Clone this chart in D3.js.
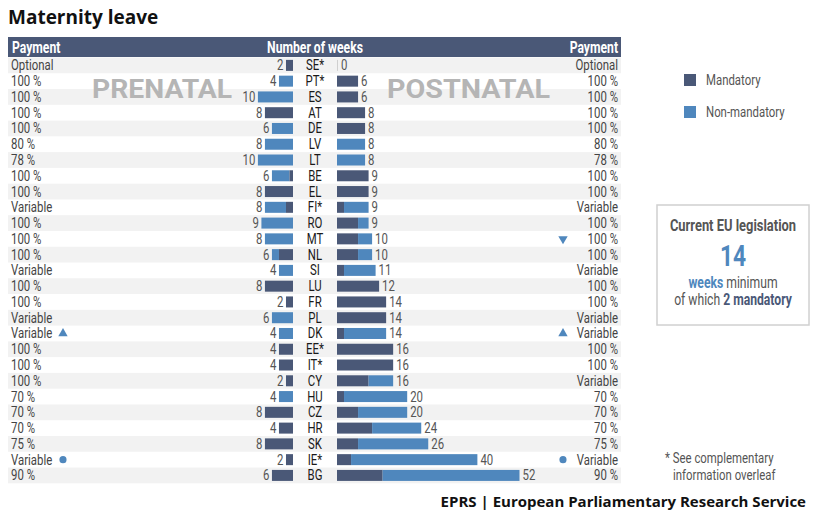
<!DOCTYPE html>
<html>
<head>
<meta charset="utf-8">
<script src="https://cdn.jsdelivr.net/npm/d3@7"></script>
<style>
  body { margin: 0; background: #fff; }
  svg text { font-family: "Roboto", "Noto Sans", sans-serif; }
</style>
</head>
<body>
<svg id="chart"></svg>
<script>
var countries = ["SE*","PT*","ES","AT","DE","LV","LT","BE","EL","FI*","RO","MT","NL","SI","LU","FR","PL","DK","EE*","IT*","CY","HU","CZ","HR","SK","IE*","BG"];
var prenatalTotal     = [2,4,10,8,6,8,10,6,8,8,9,8,6,4,8,2,6,4,4,4,2,4,8,4,8,2,6];
var prenatalMandatory = [2,0,0,8,0,0,0,1,8,2,0,0,4,0,8,2,0,0,4,4,2,0,8,4,8,2,6];
var postnatalTotal     = [0,6,6,8,8,8,8,9,9,9,9,10,10,11,12,14,14,14,16,16,16,20,20,24,26,40,52];
var postnatalMandatory = [0,6,6,8,8,0,0,9,9,2,6,6,6,2,12,14,14,2,16,16,9,2,6,10,6,4,13];
var paymentPrenatal = ["Optional","100 %","100 %","100 %","100 %","80 %","78 %","100 %","100 %","Variable","100 %","100 %","100 %","Variable","100 %","100 %","Variable","Variable","100 %","100 %","100 %","70 %","70 %","70 %","75 %","Variable","90 %"];
var paymentPostnatal = ["Optional","100 %","100 %","100 %","100 %","80 %","78 %","100 %","100 %","Variable","100 %","100 %","100 %","Variable","100 %","100 %","Variable","Variable","100 %","100 %","Variable","70 %","70 %","70 %","75 %","Variable","90 %"];
var markersLeft  = [{country:"DK", shape:"up"}, {country:"IE*", shape:"circle"}];
var markersRight = [{country:"MT", shape:"down"}, {country:"DK", shape:"up"}, {country:"IE*", shape:"circle"}];
var legendLabels = ["Mandatory","Non-mandatory"];

var dark = "#4a5877";
var light = "#4f87bd";

var width = 819, height = 522;
var svg = d3.select("#chart").attr("width", width).attr("height", height);

var table = { left: 8, right: 621, top: 57.5, bottom: 483.3 };
var preEdge = 293, postEdge = 337, labelX = 315;

// condensed look: the original uses a narrow face we do not have
var squeeze = 0.76;
var place = function(sel, xf, yf) {
  sel.attr("transform", function(d, i) {
    var x = typeof xf === "function" ? xf(d, i) : xf;
    var y = typeof yf === "function" ? yf(d, i) : yf;
    return "translate(" + x + "," + y + ") scale(" + squeeze + ",1)";
  });
  return sel;
};

var yScale = d3.scaleBand()
  .domain(countries)
  .range([table.top, table.bottom]);

var wScale = d3.scaleLinear()
  .domain([0, 52])
  .range([0, 182.5]);

var rows = countries.map(function(c, i) {
  return {
    country: c,
    preT: prenatalTotal[i], preM: prenatalMandatory[i],
    postT: postnatalTotal[i], postM: postnatalMandatory[i],
    payL: paymentPrenatal[i], payR: paymentPostnatal[i], i: i
  };
});

// title
svg.append("text")
  .attr("x", 8).attr("y", 24)
  .style("font-family", "'Open Sans', sans-serif")
  .style("font-weight", "700").style("font-size", "19px")
  .attr("fill", "#111")
  .text("Maternity leave");

// header bar
svg.append("rect")
  .attr("x", table.left).attr("y", 37)
  .attr("width", table.right - table.left).attr("height", 20)
  .attr("fill", dark);

var header = svg.append("g")
  .attr("fill", "#fff")
  .style("font-weight", "700").style("font-size", "16px");
place(header.append("text"), 12, 52.5).text("Payment");
place(header.append("text"), labelX, 52.5).attr("text-anchor", "middle").text("Number of weeks");
place(header.append("text"), 618, 52.5).attr("text-anchor", "end").text("Payment");

// stripes
svg.append("g").selectAll("rect")
  .data(rows.filter(function(d) { return d.i % 2 === 0; }))
  .enter().append("rect")
  .attr("x", table.left)
  .attr("y", function(d) { return yScale(d.country); })
  .attr("width", table.right - table.left)
  .attr("height", yScale.bandwidth())
  .attr("fill", "#f2f2f2");

// watermark labels
var wm = svg.append("g")
  .attr("fill", "#b5b5b5")
  .style("font-family", "'DejaVu Sans', sans-serif")
  .style("font-weight", "700").style("font-size", "26px");
wm.append("text").attr("x", 92).attr("y", 98)
  .attr("textLength", 140).attr("lengthAdjust", "spacingAndGlyphs").text("PRENATAL");
wm.append("text").attr("x", 387).attr("y", 98)
  .attr("textLength", 163).attr("lengthAdjust", "spacingAndGlyphs").text("POSTNATAL");

var barH = 11;
var barY = function(d) { return yScale(d.country) + (yScale.bandwidth() - barH) / 2; };
var textY = function(d) { return yScale(d.country) + yScale.bandwidth() / 2 + 5; };

// prenatal bars
var pre = svg.append("g");
pre.selectAll(".preNon")
  .data(rows.filter(function(d) { return d.preT > d.preM; }))
  .enter().append("rect")
  .attr("x", function(d) { return preEdge - wScale(d.preT); })
  .attr("y", barY)
  .attr("width", function(d) { return wScale(d.preT - d.preM); })
  .attr("height", barH)
  .attr("fill", light);
pre.selectAll(".preMan")
  .data(rows.filter(function(d) { return d.preM > 0; }))
  .enter().append("rect")
  .attr("x", function(d) { return preEdge - wScale(d.preM); })
  .attr("y", barY)
  .attr("width", function(d) { return wScale(d.preM); })
  .attr("height", barH)
  .attr("fill", dark);

// postnatal bars
var post = svg.append("g");
post.selectAll(".postMan")
  .data(rows.filter(function(d) { return d.postM > 0; }))
  .enter().append("rect")
  .attr("x", postEdge)
  .attr("y", barY)
  .attr("width", function(d) { return wScale(d.postM); })
  .attr("height", barH)
  .attr("fill", dark);
post.selectAll(".postNon")
  .data(rows.filter(function(d) { return d.postT > d.postM; }))
  .enter().append("rect")
  .attr("x", function(d) { return postEdge + wScale(d.postM); })
  .attr("y", barY)
  .attr("width", function(d) { return wScale(d.postT - d.postM); })
  .attr("height", barH)
  .attr("fill", light);
post.selectAll(".zero")
  .data(rows.filter(function(d) { return d.postT === 0; }))
  .enter().append("rect")
  .attr("x", postEdge)
  .attr("y", barY)
  .attr("width", 1)
  .attr("height", barH)
  .attr("fill", "#cfcfcf");

// texts per row
var txt = svg.append("g").style("font-size", "15px");
place(txt.selectAll(".payL").data(rows).enter().append("text"), 11, textY)
  .attr("fill", "#444").text(function(d) { return d.payL; });
place(txt.selectAll(".payR").data(rows).enter().append("text"), 618, textY)
  .attr("text-anchor", "end")
  .attr("fill", "#444").text(function(d) { return d.payR; });
place(txt.selectAll(".cty").data(rows).enter().append("text"), labelX, textY)
  .attr("text-anchor", "middle")
  .attr("fill", "#1a1a1a").text(function(d) { return d.country; });
place(txt.selectAll(".preNum").data(rows).enter().append("text"),
    function(d) { return preEdge - wScale(d.preT) - 2.5; }, textY)
  .attr("text-anchor", "end")
  .attr("fill", "#555").text(function(d) { return d.preT; });
place(txt.selectAll(".postNum").data(rows).enter().append("text"),
    function(d) { return postEdge + Math.max(wScale(d.postT), 1) + 3; }, textY)
  .attr("fill", "#555").text(function(d) { return d.postT; });

// markers
var symbolFor = function(shape) {
  if (shape === "circle") return d3.symbol().type(d3.symbolCircle).size(40)();
  return d3.symbol().type(d3.symbolTriangle).size(38)();
};
var drawMarkers = function(list, x) {
  svg.append("g").selectAll("path")
    .data(list).enter().append("path")
    .attr("d", function(d) { return symbolFor(d.shape); })
    .attr("transform", function(d) {
      var cy = yScale(d.country) + yScale.bandwidth() / 2;
      return "translate(" + x + "," + cy + ")" + (d.shape === "down" ? " rotate(180)" : "");
    })
    .attr("fill", light);
};
drawMarkers(markersLeft, 63);
drawMarkers(markersRight, 563);

// legend
var legend = svg.append("g").selectAll("g")
  .data(legendLabels).enter().append("g")
  .attr("transform", function(d, i) { return "translate(684," + (74 + i * 32) + ")"; });
legend.append("rect")
  .attr("width", 12).attr("height", 12)
  .attr("fill", function(d, i) { return i === 0 ? dark : light; });
place(legend.append("text"), 22, 11)
  .attr("fill", "#555").style("font-size", "15px")
  .text(function(d) { return d; });

// EU legislation box
var box = svg.append("g");
box.append("rect")
  .attr("x", 657).attr("y", 205).attr("width", 152).attr("height", 120)
  .attr("fill", "#fff").attr("stroke", "#d0d0d0").attr("stroke-width", 1.5);
place(box.append("text"), 733, 231).attr("text-anchor", "middle")
  .attr("fill", "#555").style("font-weight", "700").style("font-size", "17px")
  .text("Current EU legislation");
place(box.append("text"), 733, 266).attr("text-anchor", "middle")
  .attr("fill", light).style("font-weight", "700").style("font-size", "30px")
  .text("14");
var l1 = place(box.append("text"), 733, 288).attr("text-anchor", "middle")
  .style("font-size", "16px");
l1.append("tspan").attr("fill", light).style("font-weight", "700").text("weeks");
l1.append("tspan").attr("fill", "#555").text(" minimum");
var l2 = place(box.append("text"), 733, 305).attr("text-anchor", "middle")
  .style("font-size", "16px");
l2.append("tspan").attr("fill", "#555").text("of which ");
l2.append("tspan").attr("fill", dark).style("font-weight", "700").text("2 mandatory");

// footnote
var note = svg.append("g").attr("fill", "#555").style("font-size", "15px");
place(note.append("text"), 665, 463).text("* See complementary");
place(note.append("text"), 673, 480).text("information overleaf");

// source
svg.append("text")
  .attr("x", 806).attr("y", 507).attr("text-anchor", "end")
  .style("font-family", "'Open Sans', sans-serif")
  .style("font-weight", "700").style("font-size", "15px")
  .attr("fill", "#111")
  .text("EPRS | European Parliamentary Research Service");
</script>
</body>
</html>
